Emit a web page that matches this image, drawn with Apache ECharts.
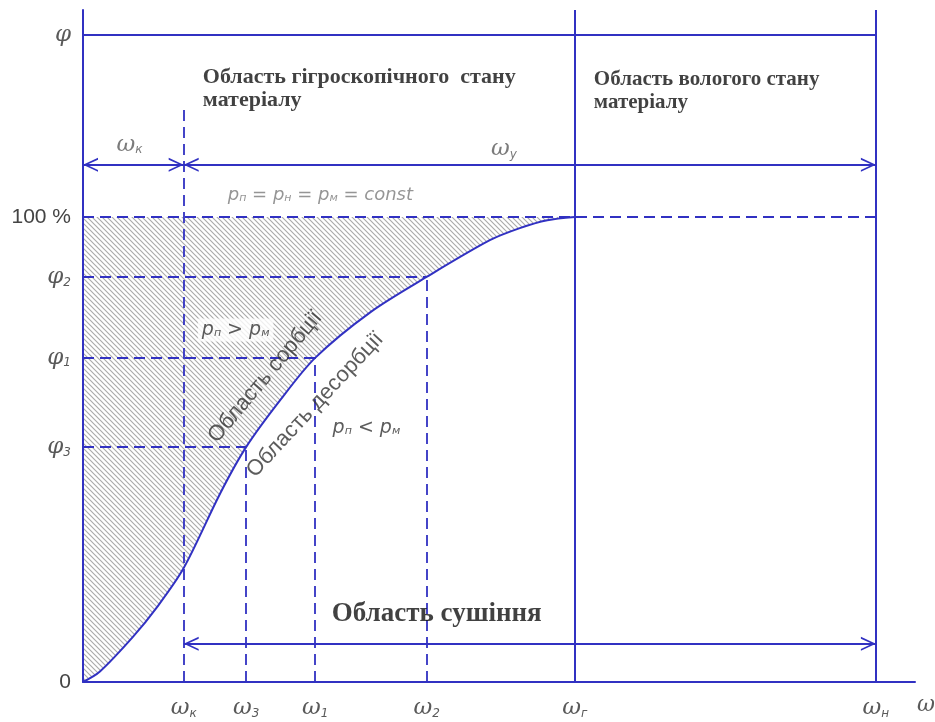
<!DOCTYPE html>
<html>
<head>
<meta charset="utf-8">
<title>Sorption isotherm</title>
<script src="https://cdn.jsdelivr.net/npm/echarts@6/dist/echarts.min.js"></script>
<style>
    html, body { margin: 0; padding: 0; background: #fff; }
    #chart { width: 935px; height: 722px; }
</style>
</head>
<body>
<div id="chart"></div>
<script>
// x: moisture content ω (0..100 = length of axis), y: φ in %
const curveX = [0, 2.0, 6.0, 8.9, 12.1, 16.5, 19.6, 23.7, 27.9, 34.6, 41.3, 48.9, 52.5, 55.8, 59.1];
const curveY = [0, 2.2, 9.7, 16.1, 24.5, 40.6, 50.5, 60.6, 69.7, 79.6, 87.1, 95.0, 97.6, 99.3, 100];

// points on the isotherm marked with dashed guides: (ω3, φ3), (ω1, φ1), (ω2, φ2)
const pointW = [19.6, 27.9, 41.3];
const pointPhi = [50.5, 69.7, 87.1];

const omegaK = 12.1;      // ωк
const omegaG = 59.1;      // ωг
const omegaN = 95.3;      // ωн
const omegaKTop = 123.4;  // top of the ωк dashed line
const phiTop = 139.1;     // φ line
const yMax = 144.5;
const arrowTopY = 111.2;
const arrowBottomY = 8.2;

const xTickValues = [12.1, 19.6, 27.9, 41.3, 59.1, 95.3];
const xTickSubs = ["к", "3", "1", "2", "г", "н"];
const yTickValues = [0, 50.5, 69.7, 87.1, 100, 139.1];
const yTickLabels = ["0", "φ|3", "φ|1", "φ|2", "100 %", "φ"];

const BLUE = "#3131c2";
const GREY = "#5a5a5a";

const makeHatch = () => {
    let c = document.createElement("canvas");
    let s = 5;
    c.width = s;
    c.height = s;
    let ctx = c.getContext("2d");
    ctx.strokeStyle = "#ababab";
    ctx.lineWidth = 1.15;
    ctx.beginPath();
    ctx.moveTo(-1, -1);
    ctx.lineTo(s + 1, s + 1);
    ctx.moveTo(-1, s - 1);
    ctx.lineTo(1, s + 1);
    ctx.moveTo(s - 1, -1);
    ctx.lineTo(s + 1, 1);
    ctx.stroke();
    return c;
};

// open chevron, tip in the centre of its box so it sits on the line end
const chevron = "path://M6,0L6.01,0ZM0,28L6,14L12,28L10.4,28L6,17.6L1.6,28Z";

const nearest = (arr, v) => {
    let best = 0;
    for (let i = 0; i < arr.length; i++) {
        if (Math.abs(arr[i] - v) < Math.abs(arr[best] - v)) best = i;
    }
    return best;
};

const subRich = {
    g: { fontFamily: "DejaVu Serif", fontStyle: "italic", fontSize: 23, color: GREY, verticalAlign: "bottom" },
    s: { fontFamily: "DejaVu Sans", fontStyle: "italic", fontSize: 12, color: GREY, verticalAlign: "bottom" },
    n: { fontFamily: "Liberation Sans", fontSize: 21, color: "#444", verticalAlign: "bottom" }
};

const pRich = (size, color) => ({
    p: { fontFamily: "DejaVu Sans", fontStyle: "italic", fontSize: size, color: color },
    s: { fontFamily: "DejaVu Sans", fontStyle: "italic", fontSize: Math.round(size * 0.6), color: color, padding: [7, 0, 0, 0] }
});

// dashed guides
let dashed = [[{ coord: [0, 100] }, { coord: [omegaN, 100] }]];
for (let i = 0; i < pointW.length; i++) {
    dashed.push([{ coord: [0, pointPhi[i]] }, { coord: [pointW[i], pointPhi[i]] }]);
    dashed.push([{ coord: [pointW[i], 0] }, { coord: [pointW[i], pointPhi[i]] }]);
}
dashed.push([{ coord: [omegaK, 0] }, { coord: [omegaK, omegaKTop] }]);

let solid = [
    [{ coord: [0, phiTop] }, { coord: [omegaN, phiTop] }],
    [{ coord: [omegaG, 0] }, { coord: [omegaG, yMax] }],
    [{ coord: [omegaN, 0] }, { coord: [omegaN, yMax] }]
];

let arrows = [
    [{ coord: [0, arrowTopY] }, { coord: [omegaK, arrowTopY] }],
    [{ coord: [omegaK, arrowTopY] }, { coord: [omegaN, arrowTopY] }],
    [{ coord: [omegaK, arrowBottomY] }, { coord: [omegaN, arrowBottomY] }]
];

const titleLabel = (size, lh) => ({
    show: true, position: "right", distance: 0,
    fontFamily: "Liberation Serif", fontWeight: "bold", fontSize: size, color: "#111", lineHeight: lh
});
const formulaLabel = (size, color, bg) => ({
    show: true, position: "right", distance: 0,
    fontFamily: "DejaVu Sans", fontStyle: "italic", fontSize: size, color: color,
    backgroundColor: bg || "transparent", padding: bg ? [2, 4] : 0,
    rich: pRich(size, color)
});
const slantLabel = angle => ({
    show: true, position: "inside", rotate: angle,
    fontFamily: "Liberation Sans", fontSize: 22, color: "#333"
});

let notes = [
    { name: "Область гігроскопічного  стану\nматеріалу", value: [14.4, 127.5], label: titleLabel(22, 23) },
    { name: "Область вологого стану\nматеріалу", value: [61.4, 127.0], label: titleLabel(21, 23) },
    { name: "Область сушіння", value: [29.9, 14.6], label: titleLabel(27, 28) },
    { name: "{p|p}{s|п} = {p|p}{s|н} = {p|p}{s|м} = const", value: [17.4, 104.7], label: formulaLabel(18, "#7a7a7a") },
    { name: "{p|p}{s|п} > {p|p}{s|м}", value: [13.8, 75.7], label: formulaLabel(19, "#333", "#fff") },
    { name: "{p|p}{s|п} < {p|p}{s|м}", value: [30.0, 54.6], label: formulaLabel(19, "#333") },
    { name: "Область сорбції", value: [21.9, 65.6], label: slantLabel(50) },
    { name: "Область десорбції", value: [27.9, 59.6], label: slantLabel(47) },
    { name: "{g|ω}{s|к}", value: [5.6, 115.5], label: { show: true, position: "inside", rich: subRich } },
    { name: "{g|ω}{s|у}", value: [50.6, 114.5], label: { show: true, position: "inside", rich: subRich } }
];

let chart = echarts.init(document.getElementById("chart"));

let option = {
    animation: false,
    grid: { left: 83, right: 20, top: 10, bottom: 40, outerBoundsMode: "none" },
    xAxis: {
        type: "value", min: 0, max: 100, z: 6,
        axisLine: { lineStyle: { color: BLUE, width: 2 } },
        axisTick: { show: false },
        splitLine: { show: false },
        axisLabel: {
            customValues: xTickValues,
            margin: 15,
            formatter: v => "{g|ω}{s|" + xTickSubs[nearest(xTickValues, v)] + "}",
            rich: subRich
        },
        name: "ω", nameLocation: "end", nameGap: 2,
        nameTextStyle: { fontFamily: "DejaVu Serif", fontStyle: "italic", fontSize: 22, color: GREY, verticalAlign: "top", padding: [12, 0, 0, 0] }
    },
    yAxis: {
        type: "value", min: 0, max: yMax, z: 6,
        axisLine: { lineStyle: { color: BLUE, width: 2 } },
        axisTick: { show: false },
        splitLine: { show: false },
        axisLabel: {
            customValues: yTickValues,
            margin: 12,
            formatter: v => {
                let t = yTickLabels[nearest(yTickValues, v)];
                if (t.indexOf("|") > 0) {
                    let parts = t.split("|");
                    return "{g|" + parts[0] + "}{s|" + parts[1] + "}";
                }
                if (t === "φ") return "{g|φ}";
                return "{n|" + t + "}";
            },
            rich: subRich
        }
    },
    series: [
        {
            name: "hatch", type: "line", silent: true, z: 1,
            data: [[0, 100], [omegaG, 100]],
            symbol: "none",
            lineStyle: { width: 0 },
            areaStyle: { color: { image: makeHatch(), repeat: "repeat" }, opacity: 1 }
        },
        {
            name: "isotherm", type: "line", silent: true, z: 2,
            data: curveX.map((x, i) => [x, curveY[i]]),
            smooth: 0.3,
            symbol: "none",
            lineStyle: { color: BLUE, width: 2 },
            areaStyle: { color: "#fff", opacity: 1 }
        },
        {
            name: "dashed", type: "line", data: [], z: 4,
            markLine: {
                silent: true, symbol: "none", animation: false,
                label: { show: false },
                lineStyle: { color: BLUE, width: 1.8, type: [11, 6] },
                emphasis: { disabled: true },
                data: dashed
            }
        },
        {
            name: "solid", type: "line", data: [], z: 4,
            markLine: {
                silent: true, symbol: "none", animation: false,
                label: { show: false },
                lineStyle: { color: BLUE, width: 2, type: "solid" },
                emphasis: { disabled: true },
                data: solid
            }
        },
        {
            name: "arrows", type: "line", data: [], z: 4,
            markLine: {
                silent: true, symbol: [chevron, chevron], symbolSize: [14, 30], animation: false,
                label: { show: false },
                lineStyle: { color: BLUE, width: 1.8, type: "solid" },
                emphasis: { disabled: true },
                data: arrows
            }
        },
        {
            name: "notes", type: "scatter", silent: true, z: 10,
            symbolSize: 0,
            label: { formatter: p => p.name },
            data: notes
        }
    ]
};

chart.setOption(option);
</script>
</body>
</html>
